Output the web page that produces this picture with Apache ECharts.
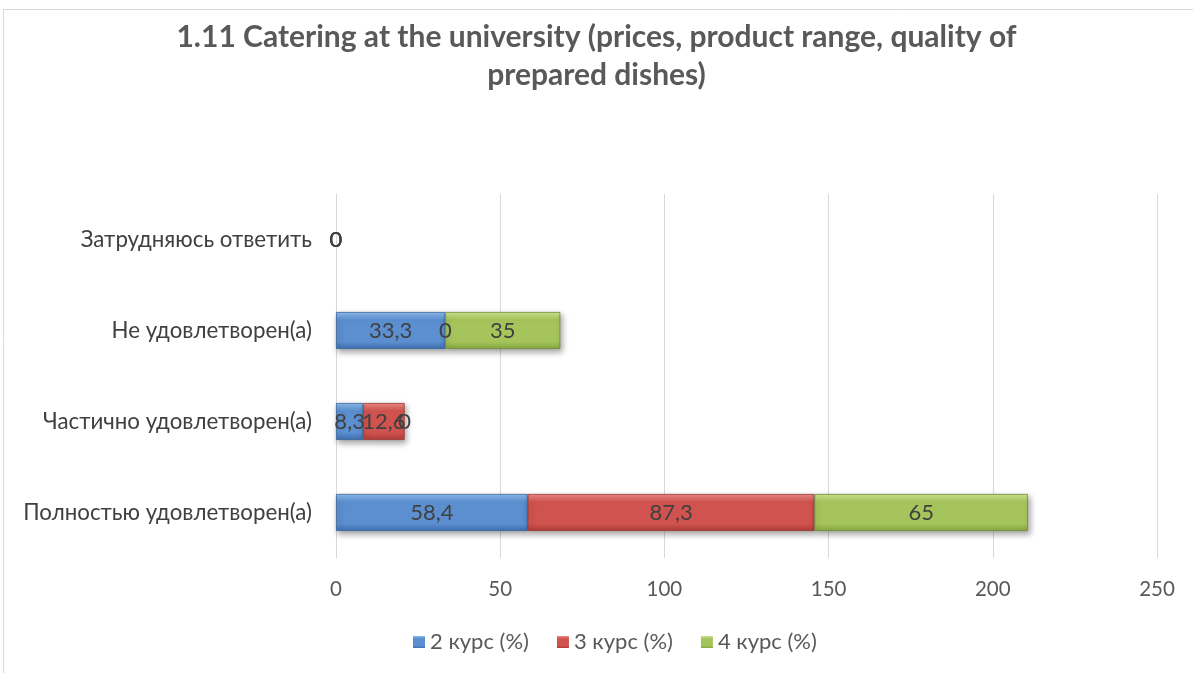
<!DOCTYPE html>
<html>
<head>
<meta charset="utf-8">
<script src="https://cdn.jsdelivr.net/npm/echarts@6/dist/echarts.min.js"></script>
<style>
html,body{margin:0;padding:0;background:#fff;}
#chart{width:1193px;height:673px;}
</style>
</head>
<body>
<div id="chart"></div>
<script>
const titleText = '1.11 Catering at the university (prices, product range, quality of\nprepared dishes)';
const categories = ['Полностью удовлетворен(а)', 'Частично удовлетворен(а)', 'Не удовлетворен(а)', 'Затрудняюсь ответить'];
const seriesNames = ['2 курс (%)', '3 курс (%)', '4 курс (%)'];
const course2 = [58.4, 8.3, 33.3, 0];
const course3 = [87.3, 12.6, 0, 0];
const course4 = [65, 0, 35, 0];
const xTicks = [0, 50, 100, 150, 200, 250];

const palettes = [
  ['#8cbcf0', '#5b8fd0', '#3f6fb0'],
  ['#ee8a86', '#d0534f', '#b03c39'],
  ['#cfe68e', '#a5c55c', '#86a63f']
];
const borders = ['#36629a', '#9c3431', '#6f8c33'];

function grad(p) {
  return new echarts.graphic.LinearGradient(0, 0, 0, 1, [
    {offset: 0, color: p[0]},
    {offset: 0.22, color: p[1]},
    {offset: 0.8, color: p[1]},
    {offset: 1, color: p[2]}
  ]);
}

const dataSets = [course2, course3, course4];
const chart = echarts.init(document.getElementById('chart'));
const font = 'Lato, "Open Sans", sans-serif';

const series = dataSets.map((d, i) => ({
  name: seriesNames[i],
  type: 'bar',
  stack: 'total',
  barWidth: 37,
  data: d.map(v => ({
    value: v,
    itemStyle: {borderWidth: v > 0 ? 0.8 : 0, borderColor: borders[i]}
  })),
  itemStyle: {
    color: grad(palettes[i]),
    shadowColor: 'rgba(0,0,0,0.35)',
    shadowBlur: 6,
    shadowOffsetX: 2,
    shadowOffsetY: 3
  },
  label: {
    show: true,
    position: 'inside',
    color: '#404040',
    fontSize: 22,
    fontFamily: font,
    formatter: p => String(p.value).replace('.', ',')
  }
}));

chart.setOption({
  backgroundColor: '#fff',
  animation: false,
  graphic: [{
    type: 'rect',
    shape: {x: 3.5, y: 9.5, width: 1200, height: 700},
    style: {fill: 'none', stroke: '#d9d9d9', lineWidth: 1},
    silent: true,
    z: -10
  }],
  title: {
    text: titleText,
    left: 'center',
    top: 13,
    textStyle: {
      fontFamily: font,
      fontWeight: 'bold',
      fontSize: 30,
      color: '#595959',
      lineHeight: 38
    }
  },
  legend: {
    data: seriesNames,
    bottom: 15,
    left: 408,
    itemWidth: 12,
    itemHeight: 12,
    itemGap: 28,
    icon: 'rect',
    textStyle: {fontFamily: font, fontSize: 22, color: '#595959'}
  },
  grid: {left: 336, right: 36, top: 194, bottom: 115},
  xAxis: {
    type: 'value',
    min: 0,
    max: 250,
    interval: 50,
    axisLine: {show: false},
    axisTick: {show: false},
    splitLine: {lineStyle: {color: '#d9d9d9', width: 1}},
    axisLabel: {
      fontFamily: font, fontSize: 20.5, color: '#595959', margin: 21,
      formatter: v => xTicks.includes(v) ? String(v) : ''
    }
  },
  yAxis: {
    type: 'category',
    data: categories,
    axisLine: {show: true, lineStyle: {color: '#d9d9d9'}},
    axisTick: {show: false},
    axisLabel: {fontFamily: font, fontSize: 22.3, color: '#404040', margin: 24}
  },
  series: series
});
</script>
</body>
</html>
